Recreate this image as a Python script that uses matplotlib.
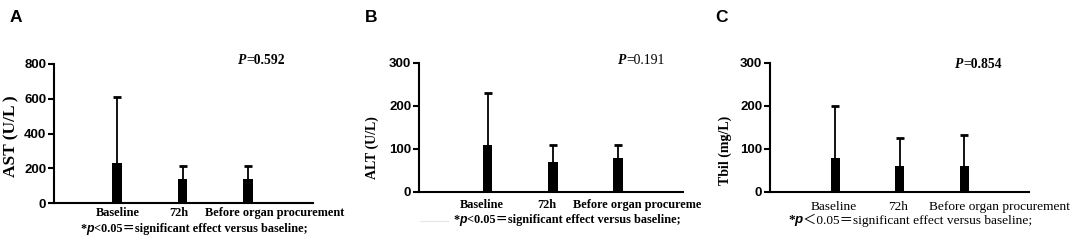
"""Liver function bars (AST, ALT, Tbil) at three time points."""
import matplotlib.pyplot as plt

categories = ['Baseline', '72h', 'Before organ procurement']

ast_mean = [230, 140, 140]
ast_err = [380, 75, 75]
alt_mean = [110, 70, 80]
alt_err = [120, 40, 30]
tbil_mean = [78, 60, 60]
tbil_err = [122, 65, 72]

W, H = 1072, 241
fig = plt.figure(figsize=(W / 100, H / 100), dpi=100)
renderer = fig.canvas.get_renderer()

SERIF = ['Liberation Serif', 'Noto Sans CJK SC']
SANS = 'Liberation Sans'


def px(x, y):
    # pixel position (from top-left) -> figure fraction
    return x / W, 1 - y / H


def axes_at(x0, x1, ytop, ybot):
    return fig.add_axes([x0 / W, 1 - ybot / H, (x1 - x0) / W, (ybot - ytop) / H])


def run_text(x, y, pieces):
    # write text pieces one after another on one line, starting at pixel (x, y)
    fx, fy = px(x, y)
    for s, kw in pieces:
        t = fig.text(fx, fy, s, ha='left', va='center', **kw)
        fx = t.get_window_extent(renderer).x1 / W


panels = [
    dict(letter='A', box=(54, 313, 64, 203), xlim=(-0.96, 2.99), ylim=800, yticks=[0, 200, 400, 600, 800],
         mean=ast_mean, err=ast_err, ylabel='AST (U/L )', ylab_xy=(11, 136), ylab_size=12.5,
         pval='0.592', p_xy=(238, 60), p_bold=True, letter_xy=(10, 17),
         cat_xy=[(118, 213, 'center'), (179, 213, 'center'), (205, 213, 'left')],
         cat_bold=True, cat_size=8.8, cat_labels=categories,
         foot_xy=(80, 229), foot_bold=True, foot_size=8.8, lt='<'),
    dict(letter='B', box=(419, 683, 63, 192), xlim=(-1.06, 3.0), ylim=300, yticks=[0, 100, 200, 300],
         mean=alt_mean, err=alt_err, ylabel='ALT (U/L)', ylab_xy=(372, 148), ylab_size=10,
         pval='0.191', p_xy=(618, 60), p_bold=False, letter_xy=(365, 17),
         cat_xy=[(482, 205, 'center'), (547, 205, 'center'), (573, 205, 'left')],
         cat_bold=True, cat_size=8.8, cat_labels=['Baseline', '72h', 'Before organ procureme'],
         foot_xy=(453, 220), foot_bold=True, foot_size=8.8, lt='<'),
    dict(letter='C', box=(770, 1029, 63, 192), xlim=(-1.01, 3.0), ylim=300, yticks=[0, 100, 200, 300],
         mean=tbil_mean, err=tbil_err, ylabel='Tbil (mg/L)', ylab_xy=(725, 150), ylab_size=10,
         pval='0.854', p_xy=(955, 65), p_bold=True, letter_xy=(715, 17),
         cat_xy=[(834, 207, 'center'), (898, 207, 'center'), (929, 207, 'left')],
         cat_bold=False, cat_size=9.6, cat_labels=categories,
         foot_xy=(788, 220), foot_bold=False, foot_size=9.6, lt='＜'),
]

for p in panels:
    ax = axes_at(*p['box'])
    x = range(len(p['mean']))
    ax.bar(x, p['mean'], width=0.14, color='black', zorder=3)
    eb = ax.errorbar(x, p['mean'], yerr=[[0] * 3, p['err']], fmt='none', ecolor='black',
                     elinewidth=1.3, capsize=3, capthick=2, zorder=2)
    eb[1][0].set_visible(False)  # no lower caps
    ax.set_xlim(*p['xlim'])
    ax.set_ylim(0, p['ylim'])
    ax.set_yticks(p['yticks'])
    ax.set_xticks([])
    for s in ['top', 'right']:
        ax.spines[s].set_visible(False)
    for s in ['left', 'bottom']:
        ax.spines[s].set_linewidth(1.5)
    ax.tick_params(axis='y', length=4, width=1.5, pad=1.5, labelsize=9.5)
    for t in ax.get_yticklabels():
        t.set_fontfamily(SANS)
        t.set_fontweight('bold')

    fig.text(*px(*p['letter_xy']), p['letter'], family=SANS, weight='bold', fontsize=12.5,
             ha='left', va='center')
    fig.text(*px(*p['ylab_xy']), p['ylabel'], family=SERIF, weight='bold',
             fontsize=p['ylab_size'], rotation=90, ha='center', va='center')

    pw = 'bold' if p['p_bold'] else 'normal'
    run_text(*p['p_xy'], [
        ('P', dict(family=SERIF, weight='bold', style='italic', fontsize=9.8)),
        ('=' + p['pval'], dict(family=SERIF, weight=pw, fontsize=9.8)),
    ])

    cw = 'bold' if p['cat_bold'] else 'normal'
    for (cx, cy, ha), lab in zip(p['cat_xy'], p['cat_labels']):
        fig.text(*px(cx, cy), lab, family=SERIF, weight=cw, fontsize=p['cat_size'],
                 ha=ha, va='center')

    fw = 'bold' if p['foot_bold'] else 'normal'
    fs = p['foot_size']
    run_text(*p['foot_xy'], [
        ('*', dict(family=SERIF, weight='bold', fontsize=fs)),
        ('p', dict(family=SANS, weight='bold', style='italic', fontsize=fs)),
        (p['lt'] + '0.05＝significant effect versus baseline;',
         dict(family=SERIF, weight=fw, fontsize=fs)),
    ])

# faint scan line left of the footnote in panel B
fig.add_artist(plt.Line2D([420 / W, 448 / W], [1 - 221 / H] * 2, color='#e6e6e6', lw=0.8))

fig.savefig('out.png', dpi=100)
